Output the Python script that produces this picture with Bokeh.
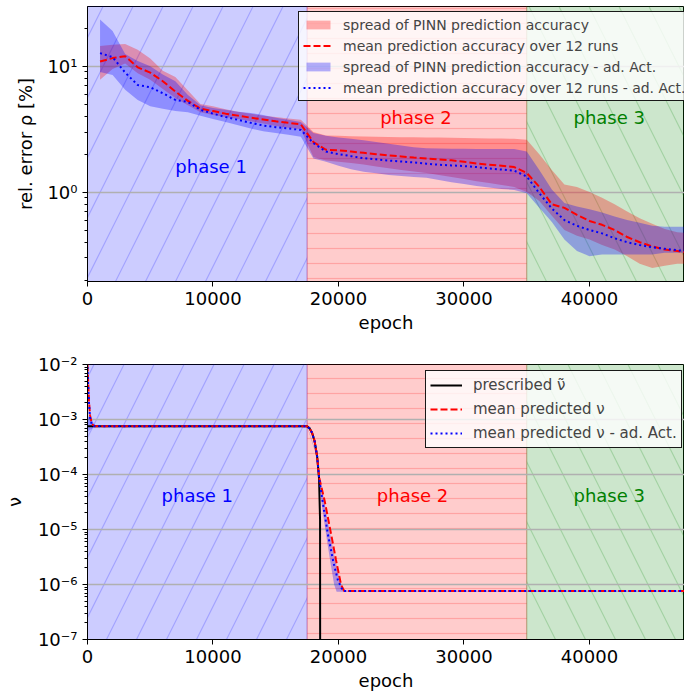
from bokeh.plotting import figure
from bokeh.layouts import column
from bokeh.models import (Range1d, FixedTicker, CustomJSTickFormatter, Legend,
                          LegendItem, Label, BasicTickFormatter)
from bokeh.embed import file_html
from bokeh.resources import INLINE

FONT = "DejaVu Sans"

# ---------------- data ----------------
phase_start = [0, 17500, 35000]
phase_end = [17500, 35000, 48000]
phase_names = ["phase 1", "phase 2", "phase 3"]
phase_colors = ["blue", "red", "green"]

epochs = [1000, 2000, 3000, 4000, 5000, 6000, 7000, 8000, 9000, 10000,
          11000, 12000, 13000, 14000, 15000, 16000, 17000, 18000, 19000, 20000,
          21000, 22000, 23000, 24000, 25000, 26000, 27000, 28000, 29000, 30000,
          31000, 32000, 33000, 34000, 35000, 36000, 37000, 38000, 39000, 40000,
          41000, 42000, 43000, 44000, 45000, 46000, 47000, 48000]

red_mean = [10.9, 11.6, 12.0, 9.8, 8.9, 7.6, 6.3, 5.3, 4.6, 4.4,
            4.2, 4.05, 3.9, 3.78, 3.65, 3.55, 3.45, 2.5, 2.17, 2.15,
            2.1, 2.05, 2.0, 1.96, 1.92, 1.88, 1.85, 1.82, 1.79, 1.74,
            1.69, 1.65, 1.62, 1.58, 1.42, 1.1, 0.8, 0.75, 0.66, 0.59,
            0.55, 0.5, 0.44, 0.4, 0.37, 0.35, 0.34, 0.33]
red_lo = [7.8, 9.5, 10.5, 8.8, 7.8, 6.6, 5.6, 4.9, 4.3, 4.1,
          3.95, 3.8, 3.65, 3.5, 3.35, 3.25, 3.15, 1.9, 1.78, 1.74,
          1.7, 1.66, 1.6, 1.55, 1.5, 1.46, 1.42, 1.37, 1.32, 1.27,
          1.22, 1.18, 1.14, 1.1, 1.0, 0.85, 0.65, 0.5, 0.45, 0.42,
          0.38, 0.35, 0.31, 0.27, 0.25, 0.26, 0.27, 0.27]
red_hi = [14.5, 14.8, 15.0, 13.5, 11.5, 9.2, 8.2, 6.4, 5.0, 4.8,
          4.55, 4.35, 4.2, 4.05, 3.95, 3.85, 3.75, 3.0, 2.82, 2.8,
          2.78, 2.76, 2.75, 2.74, 2.73, 2.73, 2.72, 2.71, 2.7, 2.69,
          2.68, 2.67, 2.66, 2.65, 2.6, 2.0, 1.5, 1.15, 1.1, 1.0,
          0.9, 0.8, 0.7, 0.62, 0.56, 0.51, 0.48, 0.47]

blue_mean = [12.7, 11.8, 8.9, 7.1, 6.8, 6.1, 5.4, 5.2, 4.5, 4.2,
             3.95, 3.75, 3.55, 3.38, 3.28, 3.2, 3.12, 2.45, 2.1, 2.0,
             1.93, 1.86, 1.82, 1.78, 1.75, 1.72, 1.68, 1.65, 1.63, 1.61,
             1.58, 1.54, 1.51, 1.48, 1.33, 0.98, 0.74, 0.6, 0.54, 0.5,
             0.47, 0.43, 0.4, 0.38, 0.365, 0.355, 0.345, 0.34]
blue_lo = [9.0, 8.5, 6.5, 5.4, 4.8, 4.6, 4.4, 4.3, 4.05, 3.8,
           3.6, 3.4, 3.2, 3.05, 2.95, 2.85, 2.75, 1.85, 1.74, 1.62,
           1.52, 1.45, 1.41, 1.37, 1.34, 1.32, 1.3, 1.25, 1.2, 1.16,
           1.12, 1.09, 1.06, 1.04, 0.98, 0.75, 0.58, 0.42, 0.34, 0.31,
           0.32, 0.32, 0.32, 0.32, 0.32, 0.33, 0.33, 0.33]
blue_hi = [23.5, 19.0, 12.5, 11.0, 10.0, 8.6, 7.6, 5.9, 4.9, 4.65,
           4.5, 4.35, 4.25, 4.1, 3.9, 3.75, 3.6, 2.95, 2.8, 2.72,
           2.65, 2.58, 2.5, 2.42, 2.35, 2.27, 2.23, 2.22, 2.21, 2.21,
           2.2, 2.2, 2.2, 2.2, 2.1, 1.5, 1.05, 0.82, 0.77, 0.73,
           0.69, 0.64, 0.6, 0.57, 0.54, 0.53, 0.53, 0.53]

# viscosity panel
nu_pres_epoch = [0, 17500, 17700, 17900, 18100, 18300, 18450, 18530, 18545]
nu_pres = [7.5e-4, 7.5e-4, 6.9e-4, 5.7e-4, 4.0e-4, 2.1e-4, 8.5e-5, 1.5e-5, 1e-9]

nu_red_epoch = [0, 60, 120, 200, 350, 600, 17500, 17700, 17900, 18100, 18300, 18450,
                18900, 19400, 19800, 20200, 20450, 48000]
nu_red = [1e-2, 4.5e-3, 2.2e-3, 1.2e-3, 8.2e-4, 7.5e-4, 7.5e-4, 6.9e-4, 5.7e-4, 4.0e-4,
          2.1e-4, 9e-5, 3.3e-5, 8.5e-6, 2.8e-6, 1.0e-6, 7.6e-7, 7.6e-7]

nu_blue_epoch = [0, 60, 120, 200, 350, 600, 17500, 17700, 17900, 18100, 18300, 18450,
                 18650, 19150, 19600, 19950, 20350, 48000]
nu_blue = [9e-3, 4e-3, 2e-3, 1.1e-3, 8e-4, 7.5e-4, 7.5e-4, 6.9e-4, 5.7e-4, 4.0e-4,
           2.1e-4, 9e-5, 4.3e-5, 8.3e-6, 2.5e-6, 1.2e-6, 7.6e-7, 7.6e-7]

nu_band_epoch = [0, 100, 250, 500, 700, 17500, 18300, 18450, 18650, 18900, 19150,
                 19400, 19650, 19850, 20100, 20350, 20600, 48000]
nu_band_lo = [6e-4, 6.2e-4, 6.6e-4, 7.2e-4, 7.4e-4, 7.4e-4, 2.0e-4, 8e-5, 3e-5, 1.2e-5,
              5e-6, 2.2e-6, 1.0e-6, 7.4e-7, 7.4e-7, 7.4e-7, 7.4e-7, 7.4e-7]
nu_band_hi = [1.2e-3, 1.1e-3, 1.05e-3, 8.5e-4, 7.6e-4, 7.6e-4, 2.2e-4, 1.0e-4, 6e-5, 3e-5,
              1.4e-5, 7e-6, 3.5e-6, 2.2e-6, 1.2e-6, 8.5e-7, 7.8e-7, 7.8e-7]

x_ticks = [0, 10000, 20000, 30000, 40000]
top_major = [1, 10]
top_minor = [0.2, 0.3, 0.4, 0.5, 0.6, 0.7, 0.8, 0.9, 2, 3, 4, 5, 6, 7, 8, 9, 20, 30]
bot_major = [1e-7, 1e-6, 1e-5, 1e-4, 1e-3, 1e-2]
bot_minor = [m * d for d in [1e-7, 1e-6, 1e-5, 1e-4, 1e-3] for m in [2, 3, 4, 5, 6, 7, 8, 9]]

SUP_JS = """
const sup = {'-':'\u207b','0':'\u2070','1':'\u00b9','2':'\u00b2','3':'\u00b3','4':'\u2074',
             '5':'\u2075','6':'\u2076','7':'\u2077','8':'\u2078','9':'\u2079'};
const e = Math.round(Math.log10(tick));
return '10' + String(e).split('').map(c => sup[c]).join('');
"""

X_END = 47570


def base_fig(height, yr, top_b, bot_b):
    p = figure(width=684, height=height, y_axis_type="log",
               x_range=Range1d(0, X_END), y_range=yr,
               output_backend="svg", toolbar_location=None,
               min_border_left=86, min_border_right=0,
               min_border_top=top_b, min_border_bottom=bot_b)
    p.background_fill_color = "white"
    p.border_fill_color = "white"
    p.outline_line_color = "black"
    p.outline_line_width = 1
    p.xgrid.visible = False
    p.ygrid.grid_line_color = "#b0b0b0"
    p.ygrid.grid_line_width = 1.5
    for ax in (p.xaxis[0], p.yaxis[0]):
        ax.axis_line_color = "black"
        ax.major_tick_line_color = "black"
        ax.minor_tick_line_color = "black"
        ax.major_tick_out = 5
        ax.major_tick_in = 0
        ax.minor_tick_out = 3
        ax.minor_tick_in = 0
        ax.major_label_text_font = FONT
        ax.major_label_text_font_size = "18px"
        ax.major_label_text_color = "black"
        ax.axis_label_text_font = FONT
        ax.axis_label_text_font_size = "18px"
        ax.axis_label_text_font_style = "normal"
        ax.axis_label_text_color = "black"
    p.xaxis.ticker = FixedTicker(ticks=x_ticks)
    p.xaxis.formatter = BasicTickFormatter(use_scientific=False)
    p.xaxis.axis_label = "epoch"
    p.xaxis.axis_label_standoff = 4
    p.yaxis.formatter = CustomJSTickFormatter(code=SUP_JS)
    return p


def add_phases(p, ylo, yhi):
    pats = ["/", "-", "\\"]
    scales = [60, 15, 60]
    for i in range(3):
        p.quad(left=[phase_start[i]], right=[phase_end[i]], bottom=[ylo], top=[yhi],
               fill_color=phase_colors[i], fill_alpha=0.2,
               line_color=phase_colors[i], line_alpha=0.25, line_width=1,
               hatch_pattern=pats[i], hatch_color=phase_colors[i], hatch_alpha=0.2,
               hatch_scale=scales[i], hatch_weight=1.2, level="image")


# ---------------- top panel ----------------
p1 = base_fig(340, Range1d(0.195, 29.8), 6, 59)
add_phases(p1, 0.01, 1000)
p1.yaxis.ticker = FixedTicker(ticks=top_major, minor_ticks=top_minor)
p1.yaxis.axis_label = "rel. error \u03c1 [%]"
p1.yaxis.axis_label_standoff = 8

r_rb = p1.varea(x=epochs, y1=red_lo, y2=red_hi, fill_color="red", fill_alpha=0.3)
r_bb = p1.varea(x=epochs, y1=blue_lo, y2=blue_hi, fill_color="blue", fill_alpha=0.3)
r_rm = p1.line(epochs, red_mean, line_color="red", line_width=2, line_dash="7 3")
r_bm = p1.line(epochs, blue_mean, line_color="blue", line_width=2, line_dash="2 3")

leg1 = Legend(items=[
    LegendItem(label="spread of PINN prediction accuracy", renderers=[r_rb]),
    LegendItem(label="mean prediction accuracy over 12 runs", renderers=[r_rm]),
    LegendItem(label="spread of PINN prediction accuracy - ad. Act.", renderers=[r_bb]),
    LegendItem(label="mean prediction accuracy over 12 runs - ad. Act.", renderers=[r_bm]),
], location=(211, 180))
leg1.label_text_font = FONT
leg1.label_text_font_size = "14px"
leg1.label_height = 17
leg1.glyph_height = 11
leg1.glyph_width = 30
leg1.label_standoff = 10
leg1.spacing = 4
leg1.padding = 4
leg1.margin = 0
leg1.background_fill_alpha = 0.8
leg1.border_line_color = "black"
leg1.border_line_alpha = 0.9
p1.add_layout(leg1)

top_label_pos = [(9850, 1.6), (26170, 3.94), (41570, 3.94)]
for (lx, ly), name, col in zip(top_label_pos, phase_names, phase_colors):
    p1.add_layout(Label(x=lx, y=ly, text=name, text_align="center", text_baseline="middle",
                        text_color=col, text_font=FONT, text_font_size="18px"))

# ---------------- bottom panel ----------------
p2 = base_fig(355, Range1d(1e-7, 1e-2), 24, 56)
add_phases(p2, 1e-9, 1)
p2.yaxis.ticker = FixedTicker(ticks=bot_major, minor_ticks=bot_minor)
p2.yaxis.axis_label = "\u03bd"
p2.yaxis.axis_label_standoff = 10

p2.varea(x=nu_band_epoch, y1=nu_band_lo, y2=nu_band_hi, fill_color="blue", fill_alpha=0.3)
r_p = p2.line(nu_pres_epoch, nu_pres, line_color="black", line_width=2)
r_r = p2.line(nu_red_epoch, nu_red, line_color="red", line_width=2, line_dash="7 3")
r_b = p2.line(nu_blue_epoch, nu_blue, line_color="blue", line_width=2, line_dash="2 3")

leg2 = Legend(items=[
    LegendItem(label="prescribed \u03bd\u0303", renderers=[r_p]),
    LegendItem(label="mean predicted \u03bd", renderers=[r_r]),
    LegendItem(label="mean predicted \u03bd - ad. Act.", renderers=[r_b]),
], location=(338, 191))
leg2.label_text_font = FONT
leg2.label_text_font_size = "15px"
leg2.label_height = 20
leg2.glyph_height = 20
leg2.glyph_width = 32
leg2.label_standoff = 11
leg2.spacing = 4
leg2.padding = 4
leg2.margin = 0
leg2.background_fill_alpha = 0.8
leg2.border_line_color = "black"
leg2.border_line_alpha = 0.9
p2.add_layout(leg2)

bot_label_pos = [(8750, 4.1e-5), (25900, 4.1e-5), (41570, 4.1e-5)]
for (lx, ly), name, col in zip(bot_label_pos, phase_names, phase_colors):
    p2.add_layout(Label(x=lx, y=ly, text=name, text_align="center", text_baseline="middle",
                        text_color=col, text_font=FONT, text_font_size="18px"))

layout = column(p1, p2, spacing=0)
open("out.html", "w").write(file_html(layout, INLINE))
